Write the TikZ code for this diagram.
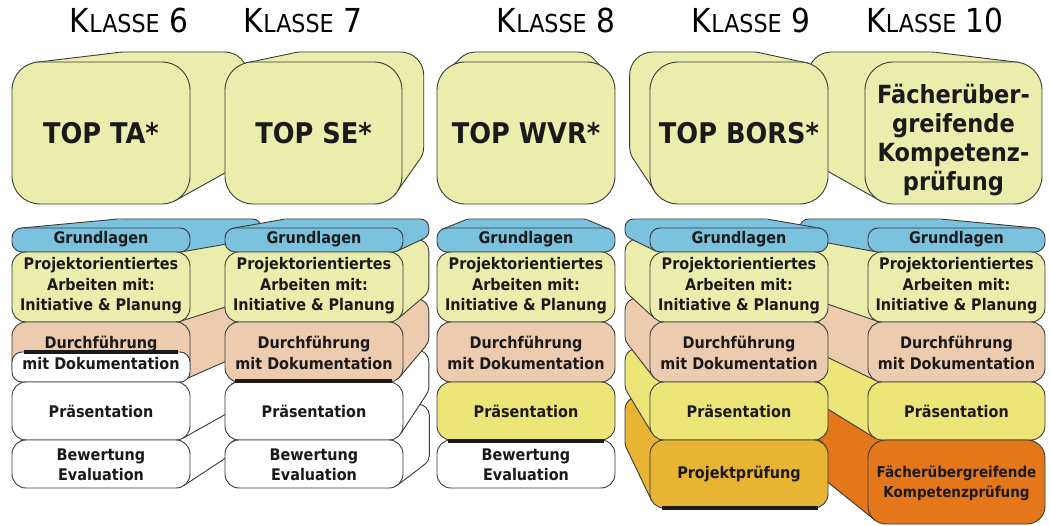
\documentclass[tikz,border=0pt]{standalone}
\usepackage{fontspec}
\setmainfont{DejaVu Sans}[FakeStretch=0.9]
\usepackage{graphicx}
\definecolor{cblue}{HTML}{7AC2DE}
\definecolor{cpale}{HTML}{EBEDAC}
\definecolor{cpeach}{HTML}{EDCBAE}
\definecolor{cyel}{HTML}{EDE577}
\definecolor{cgold}{HTML}{E8B434}
\definecolor{corange}{HTML}{E47719}
\definecolor{cedge}{HTML}{3A3A3A}
\definecolor{cbar}{HTML}{1A1A1A}
\definecolor{ctext}{HTML}{1A1A1A}
\tikzset{
  edge/.style={draw=cedge, line width=0.9pt, line join=round},
  donebar/.style={draw=cbar, line width=4pt},
  lbl/.style={text=ctext, font=\fontsize{16}{20.5}\selectfont\bfseries, align=center, inner sep=0pt},
  lblsmall/.style={lbl, font=\fontsize{15}{20}\selectfont\bfseries},
  toplbl/.style={lbl, font=\fontsize{28.5}{30}\selectfont\bfseries},
  toplblfour/.style={lbl, font=\fontsize{25}{29}\selectfont\bfseries},
  head/.style={text=black, inner sep=0pt, anchor=base},
}
\newcommand\klasse[1]{\fontsize{33}{33}\selectfont K\fontsize{24.7}{25}\selectfont LASSE\fontsize{33}{33}\selectfont\ #1}
\newcommand\setback[5]{%
  \pgfmathsetmacro\bxa{#1+\TT*(\VX-#1)}%
  \pgfmathsetmacro\bya{#2+\TT*(\VY-#2)}%
  \pgfmathsetmacro\bxb{#3+\TT*(\VX-#3)}%
  \pgfmathsetmacro\byb{#4+\TT*(\VY-#4)}%
  \pgfmathsetmacro\rb{#5*(1-\TT)}%
}
\newcommand\centers[5]{%
  \pgfmathsetmacro\fcxa{#1+#5}\pgfmathsetmacro\fcxb{#3-#5}%
  \pgfmathsetmacro\fcya{#2+#5}\pgfmathsetmacro\fcyb{#4-#5}%
  \pgfmathsetmacro\bcxa{\bxa+\rb}\pgfmathsetmacro\bcxb{\bxb-\rb}%
  \pgfmathsetmacro\bcya{\bya+\rb}\pgfmathsetmacro\bcyb{\byb-\rb}%
}
\newcommand\tang[6]{%
  \pgfmathsetmacro\ddx{#3-#1}\pgfmathsetmacro\ddy{#4-#2}%
  \pgfmathsetmacro\dd{veclen(\ddx,\ddy)}%
  \pgfmathsetmacro\nx{(#6)*\ddy/\dd}\pgfmathsetmacro\ny{-1*(#6)*\ddx/\dd}%
  \pgfmathsetmacro\pfx{#1+#5*\nx}\pgfmathsetmacro\pfy{#2+#5*\ny}%
  \pgfmathsetmacro\pbx{#3+\rb*\nx}\pgfmathsetmacro\pby{#4+\rb*\ny}%
}
\newcommand\extrude[7]{%
  \centers{#2}{#3}{#4}{#5}{#6}%
  \if R#7%
    \tang{\fcxa}{\fcya}{\bcxa}{\bcya}{#6}{1}\edef\Pa{(\pfx,\pfy)}\edef\Pb{(\pbx,\pby)}%
    \tang{\fcxb}{\fcyb}{\bcxb}{\bcyb}{#6}{-1}\edef\Pd{(\pfx,\pfy)}\edef\Pc{(\pbx,\pby)}%
  \fi
  \if L#7%
    \tang{\fcxb}{\fcya}{\bcxb}{\bcya}{#6}{-1}\edef\Pa{(\pfx,\pfy)}\edef\Pb{(\pbx,\pby)}%
    \tang{\fcxa}{\fcyb}{\bcxa}{\bcyb}{#6}{1}\edef\Pd{(\pfx,\pfy)}\edef\Pc{(\pbx,\pby)}%
  \fi
  \if U#7%
    \tang{\fcxa}{\fcya}{\bcxa}{\bcya}{#6}{1}\edef\Pa{(\pfx,\pfy)}\edef\Pb{(\pbx,\pby)}%
    \tang{\fcxb}{\fcya}{\bcxb}{\bcya}{#6}{-1}\edef\Pd{(\pfx,\pfy)}\edef\Pc{(\pbx,\pby)}%
  \fi
  \draw[edge, fill=#1, rounded corners=\rb pt] (\bxa,\bya) rectangle (\bxb,\byb);
  \fill[#1] \Pa -- \Pb -- \Pc -- \Pd -- cycle;
  \draw[edge] \Pa -- \Pb \Pc -- \Pd;
}
\newcommand\layer[7]{\setback{#2}{#3}{#4}{#5}{#6}\extrude{#1}{#2}{#3}{#4}{#5}{#6}{#7}}
\newcommand\front[6]{\draw[edge, fill=#1, rounded corners=#6pt] (#2,#3) rectangle (#4,#5);}
\begin{document}
\begin{tikzpicture}[x=1pt, y=-1pt]
\useasboundingbox (0,0) rectangle (1050,526);
% headings
\node[head] (k6) at (129,33) {\klasse{6}};
\node[head] (k7) at (303,33) {\klasse{7}};
\node[head] (k8) at (556,33) {\klasse{8}};
\node[head] (k9) at (751,33) {\klasse{9}};
\node[head] (k10) at (935,33) {\klasse{10}};
% ---------- top row ----------
\def\VX{530}\def\VY{3}\def\TT{0.17}
\layer{cpale}{12}{62}{190}{204}{28}{R}\front{cpale}{12}{62}{190}{204}{28}
\layer{cpale}{225}{62}{402}{204}{28}{R}\front{cpale}{225}{62}{402}{204}{28}
\layer{cpale}{437}{62}{615}{204}{28}{U}\front{cpale}{437}{62}{615}{204}{28}
\layer{cpale}{865}{62}{1042}{204}{28}{L}\front{cpale}{865}{62}{1042}{204}{28}
\layer{cpale}{650}{62}{828}{204}{28}{L}\front{cpale}{650}{62}{828}{204}{28}
% ---------- column Klasse 6 ----------
\def\VX{665}\def\VY{168}\def\TT{0.15}
\layer{white}{12}{440}{190}{488}{14}{R}
\layer{white}{12}{382}{190}{440}{14}{R}
\layer{cpeach}{12}{322}{190}{382}{14}{R}
\layer{cpale}{12}{252}{190}{322}{14}{R}
\layer{cblue}{12}{228}{190}{252}{10}{R}
\front{cblue}{12}{228}{190}{252}{10}
\front{cpale}{12}{252}{190}{322}{14}
\front{cpeach}{12}{322}{190}{382}{14}
\draw[edge, fill=white, rounded corners=10pt] (12,352) rectangle (190,382);
\front{white}{12}{382}{190}{440}{14}
\front{white}{12}{440}{190}{488}{14}
\draw[donebar] (24,352) -- (178,352);
% ---------- column Klasse 7 ----------
\def\VX{575}\def\VY{168}\def\TT{0.15}
\def\bxa{277.5}\def\bya{404}\def\bxb{429.4}\def\byb{467}\def\rb{12}
\extrude{white}{225}{440}{403}{488}{14}{R}
\layer{white}{225}{382}{403}{440}{14}{R}
\layer{cpeach}{225}{322}{403}{382}{14}{R}
\layer{cpale}{225}{252}{403}{322}{14}{R}
\layer{cblue}{225}{228}{403}{252}{10}{R}
\front{cblue}{225}{228}{403}{252}{10}
\front{cpale}{225}{252}{403}{322}{14}
\front{cpeach}{225}{322}{403}{382}{14}
\front{white}{225}{382}{403}{440}{14}
\front{white}{225}{440}{403}{488}{14}
\draw[donebar] (235,381) -- (392,381);
% ---------- column Klasse 8 ----------
\def\bxa{462}\def\bya{219}\def\bxb{591}\def\byb{242}\def\rb{7}
\extrude{cblue}{437}{228}{615}{252}{10}{U}
\front{cblue}{437}{228}{615}{252}{10}
\front{cpale}{437}{252}{615}{322}{14}
\front{cpeach}{437}{322}{615}{382}{14}
\front{cyel}{437}{382}{615}{440}{14}
\front{white}{437}{440}{615}{488}{14}
\draw[donebar] (448,441) -- (604,441);
% ---------- column Klasse 10 ----------
\def\VX{443}\def\VY{172}\def\TT{0.16}
\layer{corange}{868}{440}{1045}{524}{18}{L}
\layer{cyel}{868}{382}{1045}{440}{14}{L}
\layer{cpeach}{868}{322}{1045}{382}{14}{L}
\layer{cpale}{868}{252}{1045}{322}{14}{L}
\layer{cblue}{868}{228}{1045}{252}{10}{L}
\front{cblue}{868}{228}{1045}{252}{10}
\front{cpale}{868}{252}{1045}{322}{14}
\front{cpeach}{868}{322}{1045}{382}{14}
\front{cyel}{868}{382}{1045}{440}{14}
\front{corange}{868}{440}{1045}{524}{18}
% ---------- column Klasse 9 ----------
\def\VX{494}\def\VY{172}\def\TT{0.16}
\layer{cgold}{650}{440}{828}{508}{14}{L}
\layer{cyel}{650}{382}{828}{440}{14}{L}
\layer{cpeach}{650}{322}{828}{382}{14}{L}
\layer{cpale}{650}{252}{828}{322}{14}{L}
\layer{cblue}{650}{228}{828}{252}{10}{L}
\front{cblue}{650}{228}{828}{252}{10}
\front{cpale}{650}{252}{828}{322}{14}
\front{cpeach}{650}{322}{828}{382}{14}
\front{cyel}{650}{382}{828}{440}{14}
\front{cgold}{650}{440}{828}{508}{14}
\draw[donebar] (662,508) -- (818,508);
% ---------- texts ----------
\node[toplbl] (ta) at (101,133) {TOP TA*};
\node[toplbl] (se) at (313.5,133) {TOP SE*};
\node[toplbl] (wvr) at (526,133) {TOP WVR*};
\node[toplbl] (bors) at (739,133) {TOP BORS*};
\node[toplblfour] (fk) at (953.5,140) {Fächerüber-\\greifende\\Kompetenz-\\prüfung};
\foreach \cx/\nm in {101/a,314/b,526/c,739/d,956.5/e}{
  \node[lbl] (g\nm) at (\cx,239) {Grundlagen};
  \node[lbl] (p\nm) at (\cx,286) {Projektorientiertes\\Arbeiten mit:\\Initiative \& Planung};
  \node[lbl] (d\nm) at (\cx,353) {Durchführung\\mit Dokumentation};
  \node[lbl] (pr\nm) at (\cx,411) {Präsentation};
}
\node[lbl] (ba) at (101,465) {Bewertung\\Evaluation};
\node[lbl] (bb) at (314,465) {Bewertung\\Evaluation};
\node[lbl] (bc) at (526,465) {Bewertung\\Evaluation};
\node[lbl] (pp) at (739,474) {Projektprüfung};
\node[lblsmall] (fkp) at (956.5,483) {Fächerübergreifende\\Kompetenzprüfung};
\end{tikzpicture}
\end{document}
